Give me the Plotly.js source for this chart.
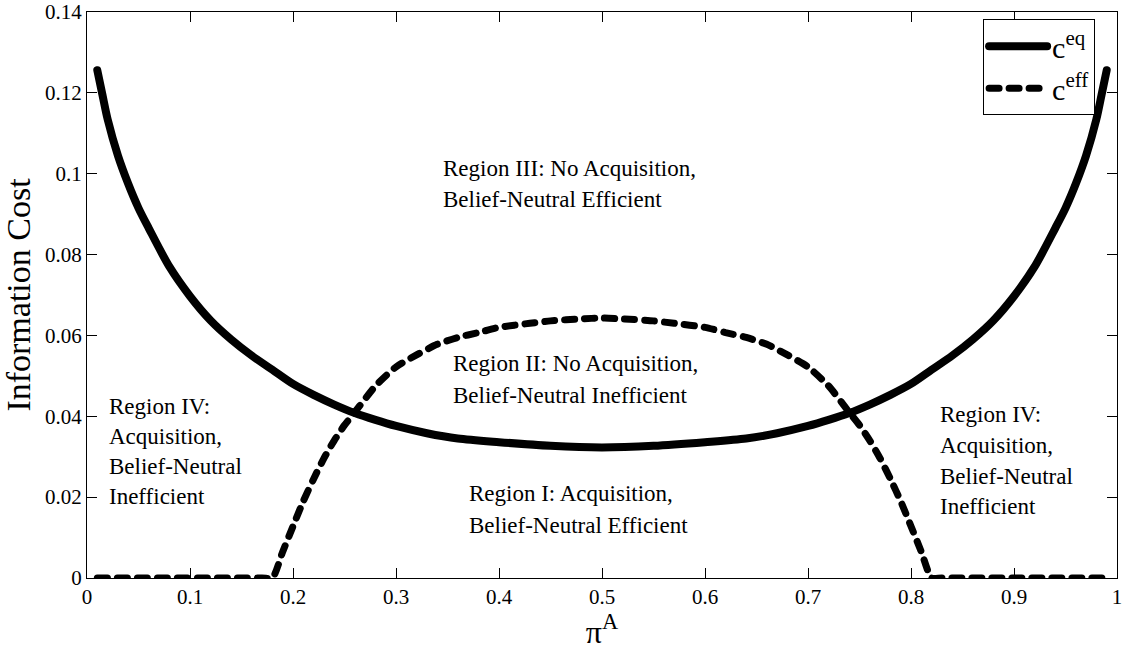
<!DOCTYPE html>
<html>
<head>
<meta charset="utf-8">
<script src="https://cdn.plot.ly/plotly-3.0.1.min.js"></script>
<style>
html,body{margin:0;padding:0;background:#fff;}
#chart{width:1128px;height:654px;}
.cartesianlayer .plot{clip-path:none !important;}
.scatterlayer path.js-line{stroke-linecap:round !important;stroke-linejoin:round !important;}
.legend path.js-line{stroke-linecap:round !important;}
</style>
</head>
<body>
<div id="chart"></div>
<script>
// pi^A values and c^eq (solid curve)
const piEq = [0.01,0.015,0.02,0.03,0.04,0.05,0.06,0.08,0.10,0.12,0.14,0.16,0.18,0.20,0.22,0.24,0.26,0.28,0.30,0.33,0.36,0.40,0.45,0.50,
              0.55,0.60,0.64,0.67,0.70,0.72,0.74,0.76,0.78,0.80,0.82,0.84,0.86,0.88,0.90,0.92,0.94,0.95,0.96,0.97,0.98,0.985,0.99];
const cEq  = [0.1256,0.1195,0.1135,0.1045,0.0975,0.0915,0.0865,0.0770,0.0697,0.0637,0.0590,0.0550,0.0515,0.0480,0.0453,0.0429,0.0408,0.0391,0.0376,0.0358,0.0345,0.0336,0.0327,0.0323,
              0.0327,0.0336,0.0345,0.0358,0.0376,0.0391,0.0408,0.0429,0.0453,0.0480,0.0515,0.0550,0.0590,0.0637,0.0697,0.0770,0.0865,0.0915,0.0975,0.1045,0.1135,0.1195,0.1256];

// pi^A values and c^eff (dashed curve)
const piEff = [0.01,0.17,0.18,0.19,0.20,0.21,0.22,0.23,0.24,0.25,0.26,0.28,0.30,0.32,0.34,0.36,0.38,0.40,0.43,0.45,0.48,0.50,
               0.52,0.55,0.57,0.60,0.62,0.64,0.66,0.68,0.70,0.72,0.74,0.75,0.76,0.77,0.78,0.79,0.80,0.81,0.82,0.83,0.99];
const cEff  = [0,0,0,0.0065,0.0128,0.0190,0.0245,0.0296,0.0340,0.0378,0.0410,0.0475,0.0522,0.0552,0.0578,0.0595,0.0607,0.0620,0.0630,0.0636,0.0641,0.0643,
               0.0641,0.0636,0.0630,0.0620,0.0607,0.0595,0.0578,0.0552,0.0522,0.0475,0.0410,0.0378,0.0340,0.0296,0.0245,0.0190,0.0128,0.0065,0,0,0];

const seriesNames = ['c<sup>eq</sup>','c<sup>eff</sup>'];
const xTickVals = [0,0.1,0.2,0.3,0.4,0.5,0.6,0.7,0.8,0.9,1];
const xTickText = ['0','0.1','0.2','0.3','0.4','0.5','0.6','0.7','0.8','0.9','1'];
const yTickVals = [0,0.02,0.04,0.06,0.08,0.1,0.12,0.14];
const yTickText = ['0','0.02','0.04','0.06','0.08','0.1','0.12','0.14'];

// region labels, one entry per text line
const regionLines = [
  ['Region III: No Acquisition,','Belief-Neutral Efficient'],
  ['Region II: No Acquisition,','Belief-Neutral Inefficient'],
  ['Region I: Acquisition,','Belief-Neutral Efficient'],
  ['Region IV:','Acquisition,','Belief-Neutral','Inefficient'],
  ['Region IV:','Acquisition,','Belief-Neutral','Inefficient']
];
// anchor (left x, first line y) and line step, in axis units
const regionPos = [
  {x:0.344, y:0.1013, step:0.0076},
  {x:0.353, y:0.0530, step:0.0079},
  {x:0.369, y:0.0210, step:0.0079},
  {x:0.019, y:0.0424, step:0.0074},
  {x:0.826, y:0.0404, step:0.0076}
];

const FONT = 'Liberation Serif';
const annotations = [];
regionLines.forEach((lines,i)=>{
  lines.forEach((t,j)=>{
    annotations.push({
      x: regionPos[i].x, y: regionPos[i].y - j*regionPos[i].step,
      xref:'x', yref:'y', text:t, showarrow:false,
      xanchor:'left', yanchor:'middle',
      font:{family:FONT, size:23, color:'#000'}
    });
  });
});

const traces = [
  {x:piEq, y:cEq, type:'scatter', mode:'lines', name:seriesNames[0],
   line:{color:'#000', width:8, shape:'spline', smoothing:0.8}},
  {x:piEff, y:cEff, type:'scatter', mode:'lines', name:seriesNames[1],
   line:{color:'#000', width:7, dash:'10px,10px', shape:'spline', smoothing:0.6}}
];

const axisCommon = {
  showline:true, linecolor:'#000', linewidth:1, mirror:'ticks',
  ticks:'inside', ticklen:10, tickwidth:1, tickcolor:'#000',
  showgrid:false, zeroline:false, ticklabeloverflow:'allow',
  tickfont:{family:FONT, size:21, color:'#000'}
};

const layout = {
  width:1128, height:654,
  margin:{l:87, r:11, t:12, b:76},
  paper_bgcolor:'#fff', plot_bgcolor:'#fff',
  font:{family:FONT, color:'#000'},
  showlegend:true,
  legend:{x:0.87, y:0.987, xanchor:'left', yanchor:'top',
          bgcolor:'#fff', bordercolor:'#000', borderwidth:1,
          font:{family:FONT, size:30, color:'#000'},
          itemwidth:58, tracegroupgap:0},
  xaxis:Object.assign({}, axisCommon, {
    range:[0,1], tickvals:xTickVals, ticktext:xTickText,
    title:{text:'π<sup>A</sup>', font:{family:FONT, size:32, color:'#000'}, standoff:4}
  }),
  yaxis:Object.assign({}, axisCommon, {
    range:[0,0.140001], tickvals:yTickVals, ticktext:yTickText,
    title:{text:'Information Cost', font:{family:FONT, size:34, color:'#000'}, standoff:10}
  }),
  annotations:annotations
};

Plotly.newPlot('chart', traces, layout, {displayModeBar:false, staticPlot:true});
</script>
</body>
</html>
